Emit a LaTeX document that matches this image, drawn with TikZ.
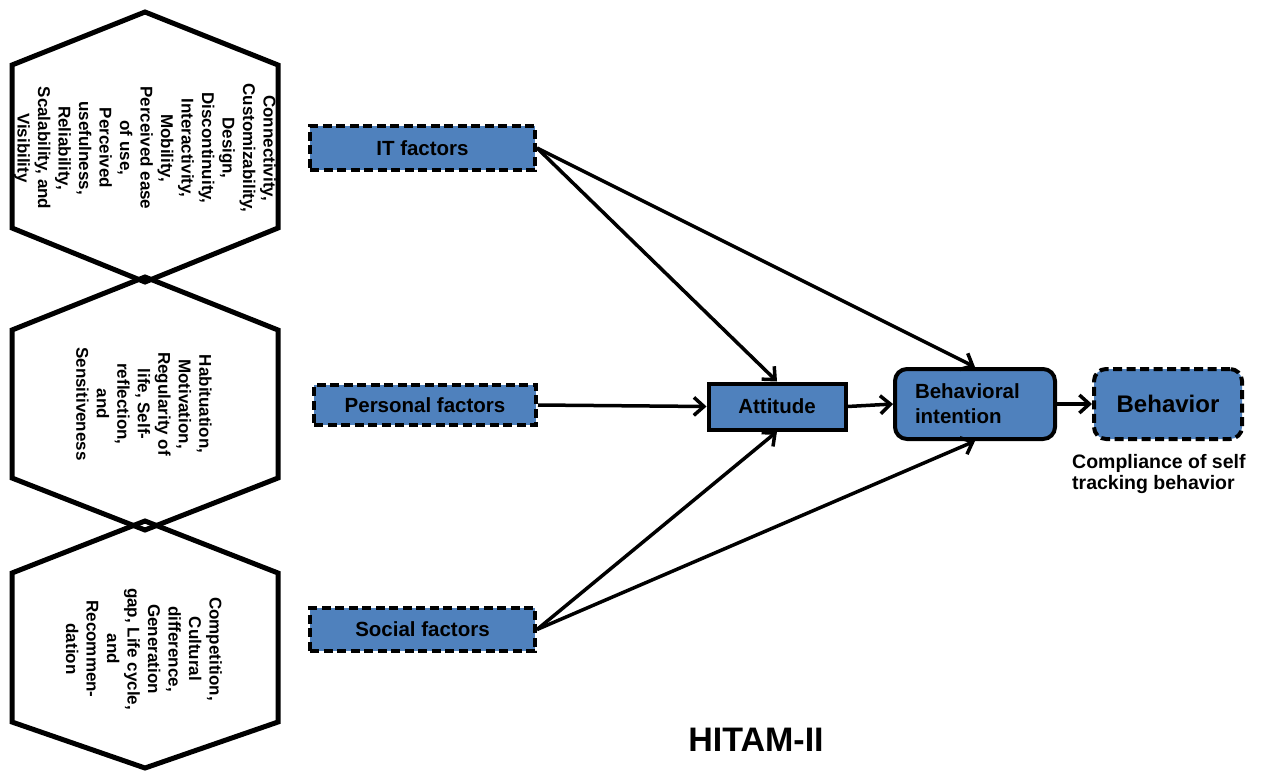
\documentclass[tikz,border=0pt]{standalone}
\usepackage{fontspec}
\setmainfont{Liberation Sans}
\usetikzlibrary{arrows.meta}
\definecolor{boxblue}{RGB}{79,129,189}
\begin{document}
\begin{tikzpicture}[x=1pt,y=-1pt,
  hexline/.style={line width=5pt, line join=miter},
  hextext/.style={rotate=-90, align=center, inner sep=0pt,
    font=\bfseries\fontsize{17}{20.5}\selectfont},
  factor/.style={draw, fill=boxblue, line width=4pt, dash pattern=on 9pt off 4.5pt,
    inner sep=0pt, font=\bfseries\fontsize{20.5}{24}\selectfont},
  solidbox/.style={draw, fill=boxblue, line width=4pt, inner sep=0pt,
    font=\bfseries\fontsize{20.5}{25}\selectfont},
  arr/.style={line width=3.5pt, -{Straight Barb[length=10pt,width=18pt]}}
]
\useasboundingbox (0,0) rectangle (1263,771);

% hexagons
\draw[hexline] (145,12) -- (12,65) -- (12,228) -- (145,282) -- (278,228) -- (278,65) -- cycle;
\draw[hexline] (145,277) -- (12,330) -- (12,478) -- (145,530) -- (278,478) -- (278,330) -- cycle;
\draw[hexline] (145,521) -- (12,573) -- (12,722) -- (145,768) -- (278,722) -- (278,573) -- cycle;

\node[hextext] (h1) at (145,148) {Connectivity,\\Customizability,\\Design,\\Discontinuity,\\Interactivity,\\Mobility,\\Perceived ease\\of use,\\Perceived\\usefulness,\\Reliability,\\Scalability, and\\Visibility};
\node[hextext] (h2) at (144,404) {Habituation,\\Motivation,\\Regularity of\\life, Self-\\reflection,\\and\\Sensitiveness};
\node[hextext] (h3) at (144,649) {Competition,\\Cultural\\difference,\\Generation\\gap, Life cycle,\\and\\Recommen-\\dation};

% factor boxes
\node[factor, minimum width=225pt, minimum height=44pt] (it) at (422.5,148) {IT factors};
\node[factor, minimum width=222pt, minimum height=40pt] (pf) at (425,405) {Personal factors};
\node[factor, minimum width=225pt, minimum height=43pt] (sf) at (422.5,629.5) {Social factors};

% attitude, intention, behavior
\node[solidbox, minimum width=137pt, minimum height=46pt] (att) at (777,406.5) {Attitude};
\node[solidbox, rounded corners=12pt, minimum width=160pt, minimum height=70pt,
      text width=120pt, align=left] (bi) at (975,404) {Behavioral\\intention};
\node[solidbox, rounded corners=12pt, dash pattern=on 9pt off 4.5pt,
      minimum width=148pt, minimum height=70pt,
      font=\bfseries\fontsize{24}{28}\selectfont] (beh) at (1168,404) {Behavior};
\node[anchor=north west, align=left, inner sep=0pt,
      font=\bfseries\fontsize{19.5}{21.5}\selectfont] (cmp) at (1072,454)
      {Compliance of self\\tracking behavior};

% title
\node[font=\bfseries\fontsize{34}{40}\selectfont, inner sep=0pt] (title) at (756,740) {HITAM-II};

% connectors
\draw[arr] (it.east) -- (att.north);
\draw[arr] (it.east) -- (bi.north);
\draw[arr] (pf.east) -- (att.west);
\draw[arr] (sf.east) -- (att.south);
\draw[arr] (sf.east) -- (bi.south);
\draw[arr] (att.east) -- (bi.west);
\draw[arr] (bi.east) -- (beh.west);
\end{tikzpicture}
\end{document}
